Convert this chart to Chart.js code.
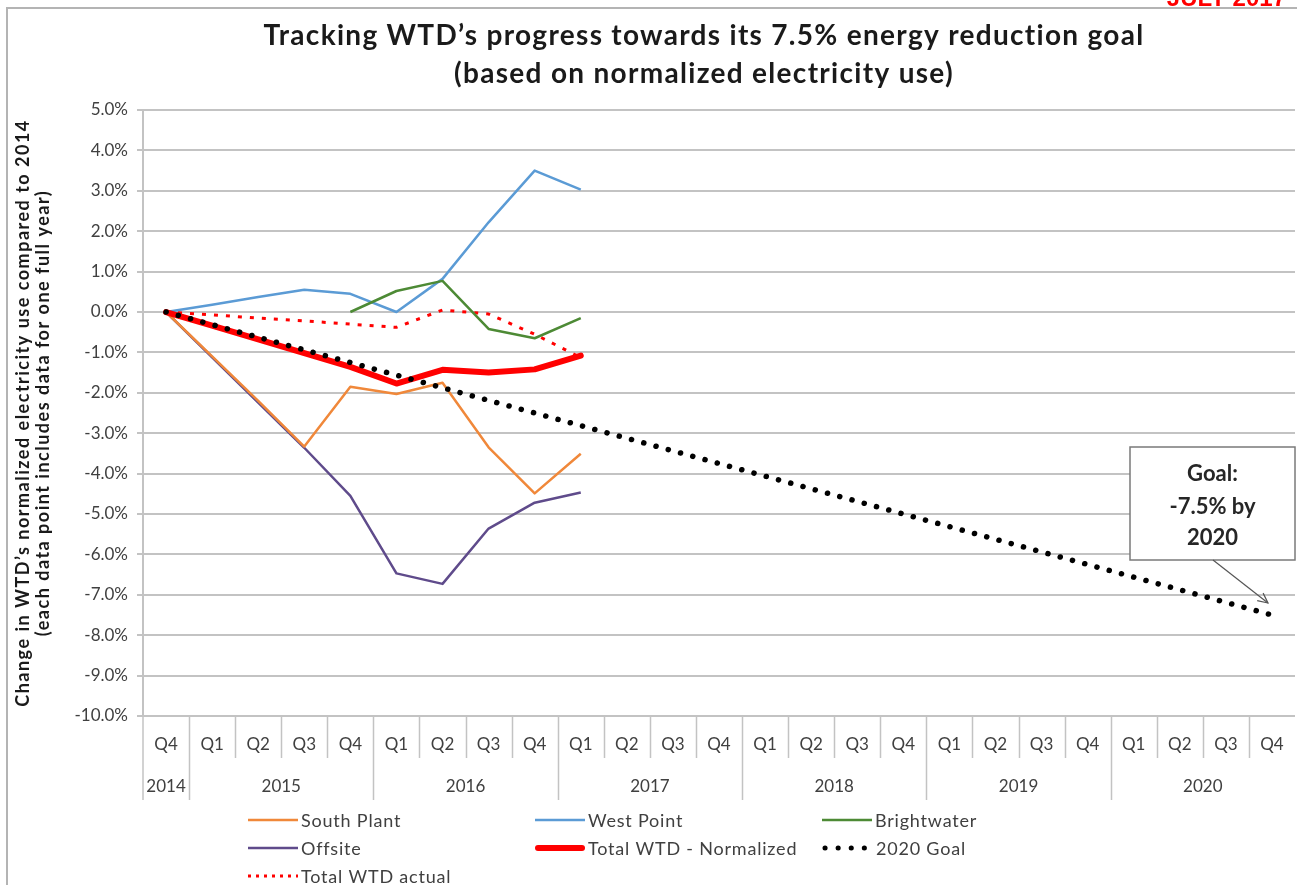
<!DOCTYPE html>
<html>
<head>
<meta charset="utf-8">
<script src="https://cdn.jsdelivr.net/npm/chart.js@4.4.1/dist/chart.umd.min.js"></script>
<style>
  html, body { margin: 0; padding: 0; background: #ffffff; }
  #wrap { width: 1297px; height: 885px; position: relative; }
</style>
</head>
<body>
<div id="wrap"><canvas id="c" width="1297" height="885"></canvas></div>
<script>
// ---------------- data ----------------
const quarterLabels = ['Q4','Q1','Q2','Q3','Q4','Q1','Q2','Q3','Q4','Q1','Q2','Q3','Q4',
                       'Q1','Q2','Q3','Q4','Q1','Q2','Q3','Q4','Q1','Q2','Q3','Q4'];
const yearLabels = ['2014','2015','2016','2017','2018','2019','2020'];
const quartersPerYear = [1, 4, 4, 4, 4, 4, 4];

const southPlant      = [0, -1.10, -2.20, -3.33, -1.85, -2.03, -1.75, -3.35, -4.49, -3.51];
const westPoint       = [0, 0.18, 0.37, 0.55, 0.45, 0.00, 0.82, 2.22, 3.50, 3.03];
const brightwater     = [null, null, null, null, 0.00, 0.52, 0.77, -0.42, -0.65, -0.15];
const offsite         = [0, -1.12, -2.24, -3.36, -4.55, -6.47, -6.73, -5.36, -4.72, -4.47];
const totalNormalized = [0, -0.34, -0.68, -1.02, -1.36, -1.77, -1.43, -1.50, -1.42, -1.08];
const totalActual     = [0, -0.07, -0.15, -0.22, -0.30, -0.38, 0.05, -0.05, -0.55, -1.13];
const goal2020        = [0, null, null, null, null, null, null, null, null, null, null, null,
                         null, null, null, null, null, null, null, null, null, null, null, null, -7.5];

const yTicks = { min: -10, max: 5, step: 1 };
const seriesNames = ['South Plant', 'West Point', 'Brightwater', 'Offsite',
                     'Total WTD - Normalized', '2020 Goal', 'Total WTD actual'];
const titleLines = ['Tracking WTD\u2019s progress towards its 7.5% energy reduction goal',
                    '(based on normalized electricity use)'];
const yTitleLines = ['Change in WTD\u2019s normalized electricity use compared to 2014',
                     '(each data point includes data for one full year)'];
const goalNote = ['Goal:', '-7.5% by', '2020'];
const cornerNote = 'JULY 2017';

// ---------------- styles ----------------
const FONT = 'Lato, Carlito, "Open Sans", sans-serif';
const TEXT = '#404040';
const GRID = '#c3c3c3';
const styles = [
  { color: '#f0883a', width: 2.5, dash: [], cap: 'butt' },
  { color: '#5b9bd5', width: 2.5, dash: [], cap: 'butt' },
  { color: '#4d8a35', width: 2.5, dash: [], cap: 'butt' },
  { color: '#5f4b8b', width: 2.5, dash: [], cap: 'butt' },
  { color: '#ff0000', width: 6, dash: [], cap: 'round' },
  { color: '#000000', width: 5.5, dash: [0.1, 12.6], cap: 'round' },
  { color: '#ff0000', width: 3, dash: [4, 8], cap: 'butt' }
];
const seriesData = [southPlant, westPoint, brightwater, offsite, totalNormalized, goal2020, totalActual];
const drawOrder = [4, 3, 2, 5, 1, 0, 2];

const datasets = seriesData.map((d, i) => ({
  label: seriesNames[i],
  data: d,
  borderColor: styles[i].color,
  backgroundColor: styles[i].color,
  borderWidth: styles[i].width,
  borderDash: styles[i].dash,
  borderCapStyle: styles[i].cap,
  borderJoinStyle: 'round',
  pointRadius: 0,
  pointHoverRadius: 0,
  tension: 0,
  fill: false,
  spanGaps: i === 5,
  order: drawOrder[i]
}));

// ---------------- custom drawing ----------------
const decor = {
  id: 'decor',
  afterDraw(chart) {
    const ctx = chart.ctx;
    const xs = chart.scales.x, ys = chart.scales.y;
    const area = chart.chartArea;
    ctx.save();

    // outer frame
    ctx.strokeStyle = '#b4b4b4';
    ctx.lineWidth = 2;
    ctx.beginPath();
    ctx.moveTo(7, 885); ctx.lineTo(7, 8); ctx.lineTo(1297, 8);
    ctx.stroke();

    // corner note (cut by top edge)
    ctx.fillStyle = '#ff0000';
    ctx.font = 'bold 24px "Liberation Sans", Arial, sans-serif';
    ctx.textAlign = 'right';
    ctx.textBaseline = 'alphabetic';
    ctx.fillText(cornerNote, 1286, 6);

    // title
    ctx.fillStyle = '#1a1a1a';
    ctx.font = 'bold 28px ' + FONT;
    ctx.letterSpacing = '1.3px';
    ctx.textAlign = 'center';
    ctx.textBaseline = 'middle';
    ctx.fillText(titleLines[0], 704, 36);
    ctx.fillText(titleLines[1], 704, 74);

    // y axis title
    ctx.save();
    ctx.translate(23, (area.top + area.bottom) / 2);
    ctx.rotate(-Math.PI / 2);
    ctx.font = 'bold 18px ' + FONT;
    ctx.letterSpacing = '1.5px';
    ctx.fillStyle = '#1a1a1a';
    ctx.fillText(yTitleLines[0], 0, 0);
    ctx.fillText(yTitleLines[1], 0, 20);
    ctx.restore();
    ctx.letterSpacing = '0px';

    // category separators
    const step = xs.getPixelForValue(1) - xs.getPixelForValue(0);
    ctx.strokeStyle = GRID;
    ctx.lineWidth = 1.5;
    const y0 = area.bottom;
    ctx.beginPath();
    ctx.moveTo(area.left, y0); ctx.lineTo(area.left, 800);
    ctx.stroke();
    let idx = 0;
    const yearBounds = [];
    quartersPerYear.forEach(n => { yearBounds.push([idx, idx + n - 1]); idx += n; });
    const yearStart = new Set(yearBounds.map(b => b[0]));
    for (let i = 1; i < quarterLabels.length; i++) {
      const x = Math.round(xs.getPixelForValue(i) - step / 2) + 0.5;
      ctx.beginPath();
      ctx.moveTo(x, y0);
      ctx.lineTo(x, yearStart.has(i) ? 800 : 758);
      ctx.stroke();
    }
    // year labels
    ctx.fillStyle = TEXT;
    ctx.font = '17px ' + FONT;
    ctx.textAlign = 'center';
    ctx.textBaseline = 'middle';
    yearBounds.forEach((b, k) => {
      const xa = xs.getPixelForValue(b[0]), xb = xs.getPixelForValue(b[1]);
      ctx.fillText(yearLabels[k], (xa + xb) / 2, 787);
    });

    // legend
    const colX = [248, 535, 822], rowY = [820, 848, 876];
    ctx.font = '18px ' + FONT;
    ctx.letterSpacing = '0.8px';
    ctx.textAlign = 'left';
    seriesNames.forEach((name, i) => {
      const cx = colX[i % 3], cy = rowY[Math.floor(i / 3)];
      const st = styles[i];
      ctx.save();
      ctx.strokeStyle = st.color;
      ctx.lineCap = st.cap;
      if (i === 5) { ctx.lineWidth = 5; ctx.setLineDash([0.1, 13]); }
      else if (i === 6) { ctx.lineWidth = 3; ctx.setLineDash([3, 5]); }
      else { ctx.lineWidth = st.width; ctx.setLineDash([]); }
      ctx.beginPath();
      const s = (i === 4) ? cx + 3 : (i === 5 ? cx + 3 : cx);
      const e = (i === 4) ? cx + 47 : (i === 5 ? cx + 43 : cx + 50);
      ctx.moveTo(s, cy); ctx.lineTo(e, cy);
      ctx.stroke();
      ctx.restore();
      ctx.fillStyle = TEXT;
      ctx.fillText(name, cx + (i === 5 ? 54 : 53), cy + 1);
    });
    ctx.letterSpacing = '0px';

    // goal annotation box
    const bx = 1130, by = 447, bw = 165, bh = 113;
    ctx.fillStyle = '#ffffff';
    ctx.fillRect(bx, by, bw, bh);
    ctx.strokeStyle = '#7a7a7a';
    ctx.lineWidth = 1.5;
    ctx.strokeRect(bx, by, bw, bh);
    ctx.fillStyle = '#262626';
    ctx.font = 'bold 22px ' + FONT;
    ctx.textAlign = 'center';
    ctx.fillText(goalNote[0], bx + bw / 2, 474);
    ctx.fillText(goalNote[1], bx + bw / 2, 507);
    ctx.fillText(goalNote[2], bx + bw / 2, 538);
    // arrow
    const ax0 = bx + 83, ay0 = by + bh;
    const ax1 = xs.getPixelForValue(24) - 4, ay1 = ys.getPixelForValue(-7.5) - 12;
    ctx.strokeStyle = '#555555';
    ctx.lineWidth = 1.2;
    ctx.beginPath();
    ctx.moveTo(ax0, ay0); ctx.lineTo(ax1, ay1);
    ctx.stroke();
    const ang = Math.atan2(ay1 - ay0, ax1 - ax0);
    const hl = 11;
    ctx.beginPath();
    ctx.moveTo(ax1 - hl * Math.cos(ang - 0.45), ay1 - hl * Math.sin(ang - 0.45));
    ctx.lineTo(ax1, ay1);
    ctx.lineTo(ax1 - hl * Math.cos(ang + 0.45), ay1 - hl * Math.sin(ang + 0.45));
    ctx.stroke();

    ctx.restore();
  }
};

new Chart(document.getElementById('c'), {
  type: 'line',
  data: { labels: quarterLabels, datasets },
  options: {
    responsive: false,
    animation: false,
    devicePixelRatio: 1,
    layout: { padding: { left: 0, right: 2, top: 110, bottom: 85 } },
    plugins: {
      legend: { display: false },
      title: { display: false },
      tooltip: { enabled: false }
    },
    scales: {
      x: {
        type: 'category',
        offset: true,
        grid: { display: false },
        border: { display: false },
        ticks: {
          autoSkip: false, maxRotation: 0, minRotation: 0,
          color: TEXT, font: { family: FONT, size: 17 }, padding: 10
        },
        afterFit(scale) { scale.height = 84; }
      },
      y: {
        min: yTicks.min, max: yTicks.max,
        grid: { color: GRID, lineWidth: 2, tickLength: 6, tickColor: GRID },
        border: { display: true, color: GRID, width: 2 },
        ticks: {
          stepSize: yTicks.step, color: TEXT, padding: 9,
          font: { family: FONT, size: 17 },
          callback: v => v.toFixed(1) + '%'
        },
        afterFit(scale) { scale.width = 143; }
      }
    }
  },
  plugins: [decor]
});
</script>
</body>
</html>
